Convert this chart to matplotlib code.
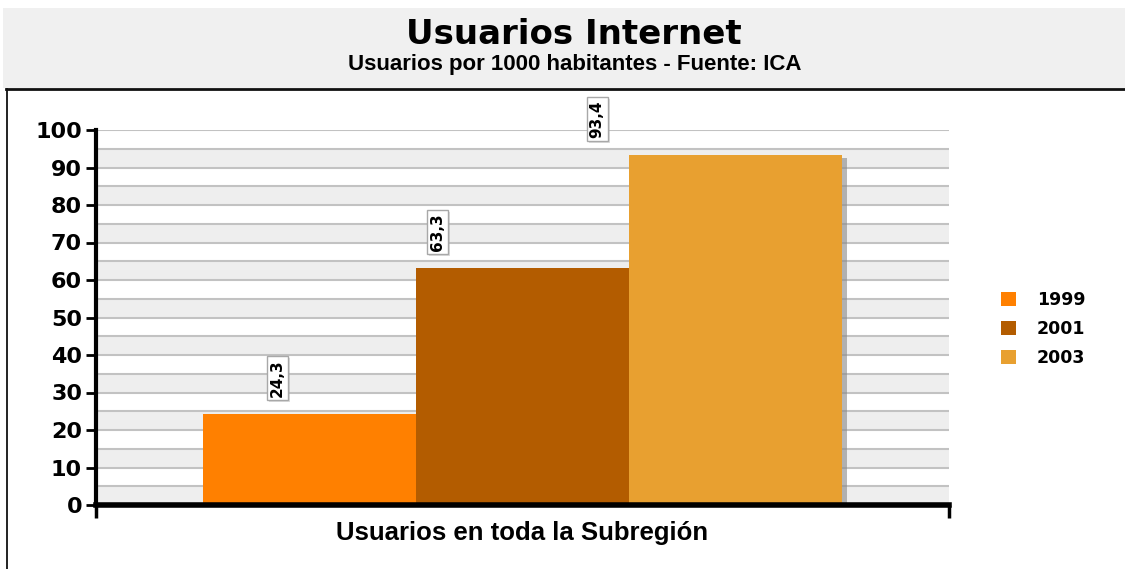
import numpy as np
import matplotlib
matplotlib.use("Agg")
import matplotlib.pyplot as plt
from matplotlib.patches import Rectangle, Patch
from matplotlib.lines import Line2D
import matplotlib.patheffects as pe

plt.rcParams['font.family'] = ['Liberation Sans', 'DejaVu Sans']
plt.rcParams['font.weight'] = 'bold'
VERDANA = ['DejaVu Sans']

title = "Usuarios Internet"
subtitle = "Usuarios por 1000 habitantes - Fuente: ICA"
category = "Usuarios en toda la Subregión"
years = ["1999", "2001", "2003"]
values = [24.3, 63.3, 93.4]
colors = ["#FF8000", "#B35C00", "#E8A030"]
yticks = list(range(0, 101, 10))

W, H = 1125, 569
fig = plt.figure(figsize=(W / 100, H / 100), dpi=100)

def fy(py):
    return 1 - py / H

def fx(px):
    return px / W

# header band
fig.patches.append(Rectangle((fx(3), fy(88)), 1, fy(8) - fy(88), transform=fig.transFigure,
                             facecolor="#f0f0f0", edgecolor="none", zorder=0))
fig.add_artist(Line2D([fx(6), 1], [fy(88.5), fy(88.5)], transform=fig.transFigure,
                      color="#111111", lw=2))
fig.add_artist(Line2D([fx(7), fx(7)], [fy(89), 0], transform=fig.transFigure,
                      color="#111111", lw=1.3))

fig.text(fx(573.5), fy(35), title, ha="center", va="center", fontsize=24.5,
         fontweight="bold", family=VERDANA)
fig.text(fx(575), fy(64.5), subtitle, ha="center", va="center", fontsize=16, fontweight="bold")

ax = fig.add_axes([fx(96), fy(505), fx(949) - fx(96), fy(130) - fy(505)])
ax.set_xlim(-0.5, 0.5)
ax.set_ylim(0, 100)
ax.set_facecolor("white")

# alternating bands and grid
for b in np.arange(0, 100, 10):
    ax.axhspan(b, b + 5, color="#eeeeee", lw=0, zorder=0)
for g in np.arange(5, 101, 5):
    ax.axhline(g, color="#c2c2c2", lw=1.5, zorder=0.5)

n = len(values)
width = 0.25
pos = (np.arange(n) - (n - 1) / 2) * width
bars = ax.bar(pos, values, width=width, color=colors, zorder=2)
for b in bars:
    b.set_path_effects([pe.SimplePatchShadow(offset=(3, -2), shadow_rgbFace="#888888", alpha=0.6),
                        pe.Normal()])

for p, v in zip(pos, values):
    ann = ax.annotate(f"{v:.1f}".replace(".", ","), xy=(0.75 * p - 0.1, v),
                      xytext=(0, 17), textcoords="offset pixels",
                      rotation=90, ha="center", va="bottom", fontsize=11, fontweight="bold",
                      family=VERDANA, annotation_clip=False, zorder=5,
                      bbox=dict(boxstyle="square,pad=0.2", fc="white", ec="#a8a8a8", lw=1))
    ann.get_bbox_patch().set_path_effects([
        pe.SimplePatchShadow(offset=(1.5, -1.5), shadow_rgbFace="#aaaaaa", alpha=0.4), pe.Normal()])

for s in ["top", "right"]:
    ax.spines[s].set_visible(False)
ax.spines["left"].set_linewidth(3)
ax.spines["bottom"].set_linewidth(4)
ax.spines["left"].set_zorder(4)
ax.spines["bottom"].set_zorder(4)

ax.set_yticks(yticks)
ax.set_yticklabels([str(t) for t in yticks], fontsize=16, fontweight="bold", family=VERDANA)
ax.tick_params(axis="y", direction="out", length=7, width=2, pad=3)
ax.set_xticks([-0.5, 0.5])
ax.set_xticklabels(["", ""])
ax.tick_params(axis="x", direction="out", length=9, width=2.5)
ax.set_xlabel(category, fontsize=18.5, fontweight="bold", labelpad=-1)

handles = [Patch(facecolor=c, edgecolor="none") for c in colors]
fig.legend(handles, years, loc="upper left", bbox_to_anchor=(fx(1001), fy(291)),
           frameon=False, prop={"weight": "bold", "size": 12.5, "family": VERDANA},
           handlelength=0.86, handleheight=0.86, handletextpad=1.2,
           labelspacing=0.62, borderpad=0, borderaxespad=0)

fig.savefig("out.png", dpi=100)
